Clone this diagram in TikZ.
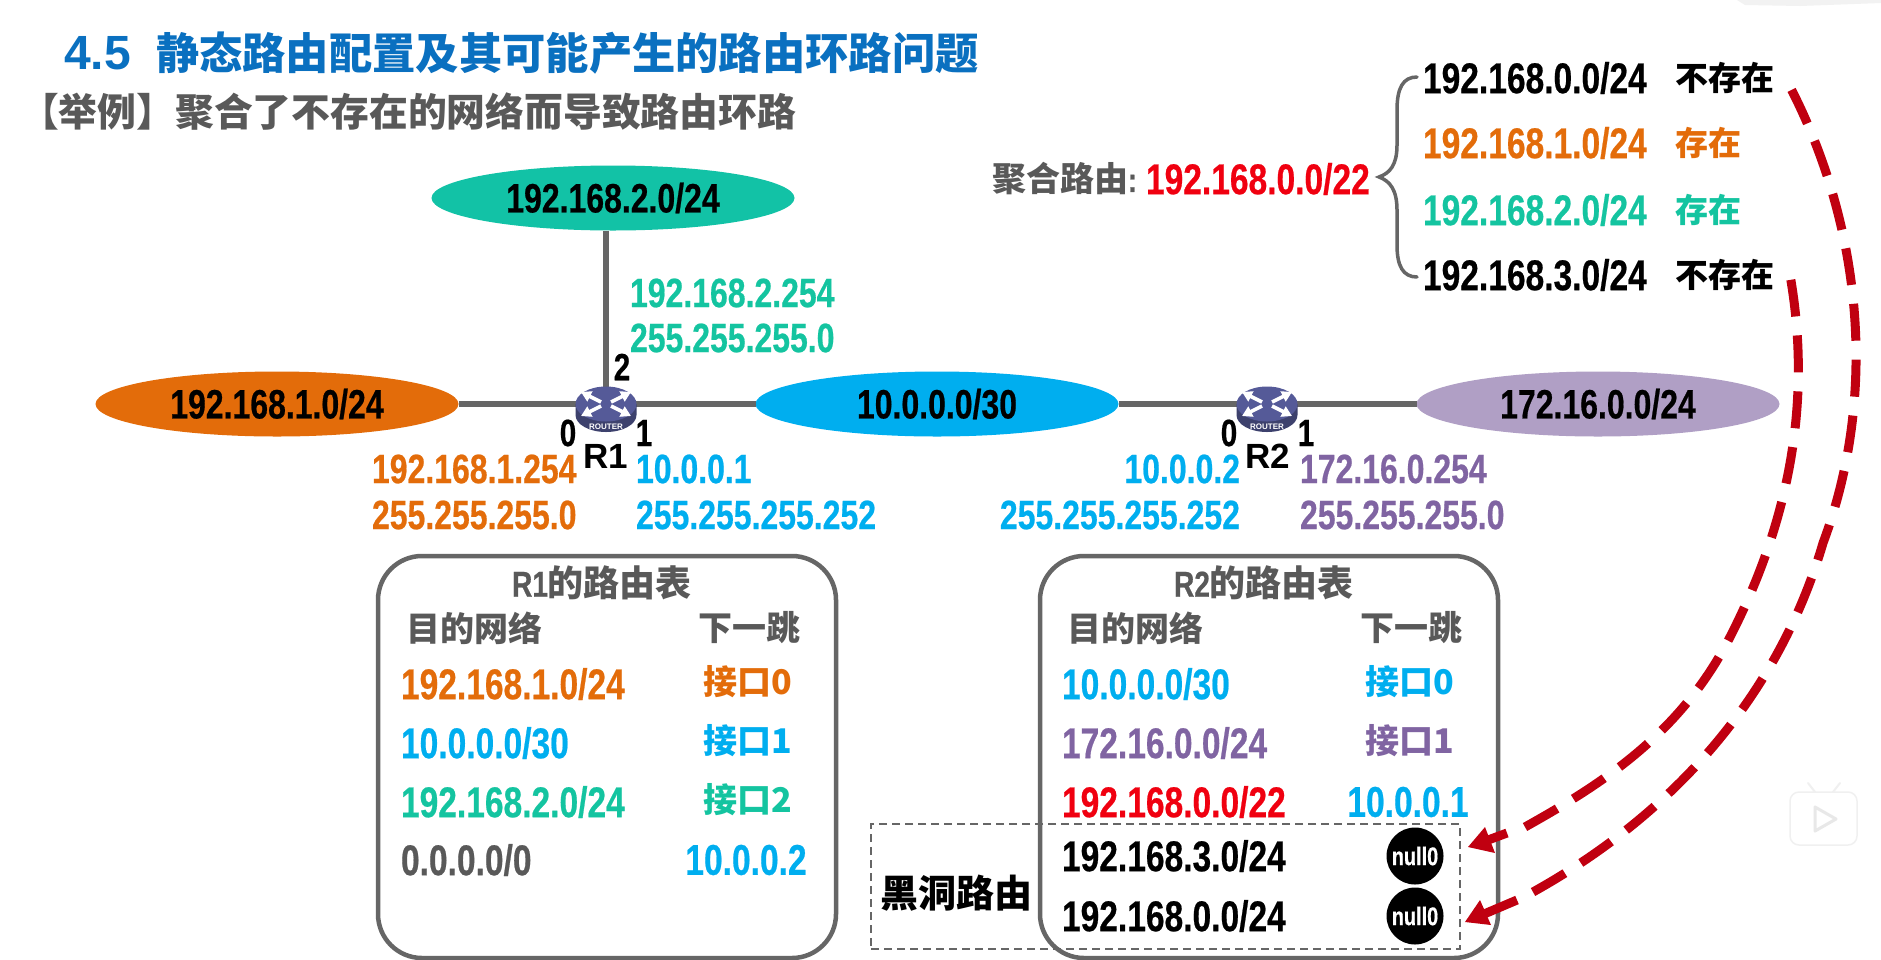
\documentclass[tikz,border=0pt]{standalone}
\usepackage{fontspec}
\usetikzlibrary{arrows.meta,shapes.geometric,calc}
\setmainfont{Liberation Sans}[FakeStretch=0.78,FakeBold=0.5]
\newfontfamily\latw{Liberation Sans}
\newfontfamily\cjk{Noto Sans CJK SC}
\definecolor{cOr}{HTML}{E36C0A}
\definecolor{cGr}{HTML}{14C4A0}
\definecolor{cBl}{HTML}{00AEEF}
\definecolor{cPu}{HTML}{8064A2}
\definecolor{cGy}{HTML}{595959}
\definecolor{cRd}{HTML}{F00010}
\definecolor{cDk}{HTML}{C00010}
\definecolor{cTi}{HTML}{0A70C0}
\definecolor{cRo}{HTML}{555A98}
\definecolor{cLn}{HTML}{666666}
\newcommand{\fs}[1]{\fontsize{#1}{#1}\selectfont}
\tikzset{
  x=1pt,y=-1pt,
  every node/.style={inner sep=0pt,outer sep=0pt},
  txt/.style={font=\fs{43}\bfseries,anchor=west},
  adr/.style={font=\fs{41}\bfseries,anchor=west},
  ctxt/.style={font=\fs{43}\bfseries,anchor=center},
  port/.style={font=\fs{38}\bfseries,anchor=center},
  ncn/.style={font=\fs{34}\cjk\bfseries,anchor=center},
  net/.style={ellipse,minimum width=363pt,minimum height=65pt,font=\fs{41}\bfseries,text=black},
  link/.style={draw=cLn,line width=6.5pt},
  table box/.style={draw=cLn,line width=4.5pt,rounded corners=44pt,fill=white},
  redarc/.style={draw=cDk,line width=9pt,dash pattern=on 37pt off 19pt},
  redstub/.style={draw=cDk,line width=9pt},
  redtip/.style={fill=cDk,draw=none},
  hole/.style={ellipse,fill=black,minimum width=57pt,minimum height=57pt},
  holetxt/.style={text=white,font=\fs{25.5}\bfseries},
  rtr/.style={ellipse,minimum width=61pt,minimum height=35pt,fill=cRo},
}
\begin{document}
\begin{tikzpicture}
\useasboundingbox (0,0) rectangle (1881,959);
\fill[white] (0,0) rectangle (1881,959);
% faint overlays of the screenshot
\fill[black!5] (1737,0) -- (1881,0) -- (1881,3) -- (1800,6) -- (1745,5) -- cycle;
\draw[black!6,line width=1.5pt,fill=white,rounded corners=9pt] (1790,792) rectangle (1857,845);
\draw[black!6,line width=2pt,line cap=round] (1808,783) -- (1815,792) (1840,783) -- (1833,792);
\draw[black!9,line width=3pt,line join=round,fill=white] (1815,807) -- (1836,819) -- (1815,831) -- cycle;

% title
\node[anchor=west,text=cTi,font=\fs{48}\latw\bfseries] (t45) at (64,53) {4.5};
\node[anchor=west,text=cTi,font=\fs{43.3}\cjk\bfseries] (title) at (156,53) {静态路由配置及其可能产生的路由环路问题};
\node[anchor=west,text=cGy,font=\fs{38.8}\cjk\bfseries] (sub) at (20,112) {【举例】聚合了不存在的网络而导致路由环路};

% routers (placed first so the links can name them)
\coordinate (r1c) at (606,408);
\coordinate (r2c) at (1267,408);
\foreach \nm/\cc in {r1/r1c,r2/r2c}{
  \node[rtr,fill=none] (\nm) at ($(\cc)+(0,-4)$) {};
}

% networks
\node[net,fill=cOr] (n1) at (277,404) {192.168.1.0/24};
\node[net,fill=cGr!92!cBl] (n2) at (613,198) {192.168.2.0/24};
\node[net,fill=cBl] (n3) at (937,404) {10.0.0.0/30};
\node[net,fill=cPu!62!white] (n4) at (1598,404) {172.16.0.0/24};

\draw[link] (r1 |- n2.south) -- (r1);
\draw[link] (n1.east) -- (n3.west);
\draw[link] (n3.east) -- (n4.west);
\foreach \cc in {r1c,r2c}{
  \begin{scope}[shift={(\cc)}]
    \fill[cRo!72!black] (-30.5,-4) -- (-30.5,7) arc[x radius=30.5,y radius=17,start angle=180,end angle=0] -- (30.5,-4) -- cycle;
    \fill[cRo] (0,-4) ellipse[x radius=30.5,y radius=17.5];
    \foreach \sx/\sy in {1/1,-1/1,1/-1,-1/-1}{
      \draw[white,line width=3.6pt,-{Triangle[length=10pt,width=11pt]}] (\sx*5,-4+\sy*2) -- (\sx*25,-4+\sy*12);
    }
    \node[text=white,font=\fs{8}\latw\bfseries] at (0,19) {ROUTER};
  \end{scope}
}

% addresses around R1
\node[adr,text=cGr] (a1) at (630,293) {192.168.2.254};
\node[adr,text=cGr] (a2) at (630,338) {255.255.255.0};
\node[port] (p2) at (622,367) {2};
\node[port] (p0) at (568,433) {0};
\node[port] (p1) at (644,433) {1};
\node[anchor=center,font=\fs{35}\latw\bfseries] (rn1) at (606,456) {R1};
\node[adr,text=cOr] (a3) at (372,469) {192.168.1.254};
\node[adr,text=cOr] (a4) at (372,515) {255.255.255.0};
\node[adr,text=cBl] (a5) at (636,469) {10.0.0.1};
\node[adr,text=cBl] (a6) at (636,515) {255.255.255.252};
% around R2
\node[port] (q0) at (1229,433) {0};
\node[port] (q1) at (1306,433) {1};
\node[anchor=center,font=\fs{35}\latw\bfseries] (rn2) at (1268,456) {R2};
\node[adr,anchor=east,text=cBl] (b1) at (1240,469) {10.0.0.2};
\node[adr,anchor=east,text=cBl] (b2) at (1240,515) {255.255.255.252};
\node[adr,text=cPu] (b3) at (1300,469) {172.16.0.254};
\node[adr,text=cPu] (b4) at (1300,515) {255.255.255.0};

% aggregate
\node[anchor=west,text=cGy,font=\fs{34}\bfseries] (agg) at (992,179) {{\cjk\bfseries 聚合路由}:};
\node[txt,text=cRd] (aggv) at (1146,179) {192.168.0.0/22};
\coordinate (brT) at (1417,77);
\coordinate (brM) at (1379,177);
\coordinate (brB) at (1417,277);
\draw[cLn,line width=3.5pt,line cap=round] (brT) .. controls (1403,77) and (1397,88) .. (1397,110)
  -- (1397,145) .. controls (1397,165) and (1390,173) .. (brM)
  .. controls (1390,181) and (1397,190) .. (1397,210) -- (1397,245)
  .. controls (1397,266) and (1403,277) .. (brB);
\foreach \nm/\y/\col/\ip/\st in {s0/78/black/192.168.0.0\slash 24/不存在,s1/143/cOr/192.168.1.0\slash 24/存在,s2/210/cGr/192.168.2.0\slash 24/存在,s3/275/black/192.168.3.0\slash 24/不存在}{
  \node[txt,text=\col] (\nm) at (1423,\y) {\ip};
  \node[anchor=west,font=\fs{33}\cjk\bfseries,text=\col] (\nm c) at (1675,\y) {\st};
}

% tables
\draw[table box] (378,556) rectangle (836,958);
\draw[table box] (1040,556) rectangle (1498,958);
\node[ncn,text=cGy,font=\fs{36}\bfseries] (h1) at (602,583) {R1{\cjk\bfseries 的路由表}};
\node[ncn,text=cGy] (h2) at (474,628) {目的网络};
\node[ncn,text=cGy] (h3) at (749,628) {下一跳};
\foreach \nm/\y/\col/\ip/\st in {u0/684/cOr/192.168.1.0\slash 24/接口0,u1/743/cBl/10.0.0.0\slash 30/接口1,u2/802/cGr/192.168.2.0\slash 24/接口2}{
  \node[txt,text=\col] (\nm) at (401,\y) {\ip};
  \node[ncn,text=\col] (\nm c) at (748,\y-2) {\st};
}
\node[txt,text=cGy] (u3) at (401,860) {0.0.0.0/0};
\node[ctxt,text=cBl] (u3c) at (746,860) {10.0.0.2};

\node[ncn,text=cGy,font=\fs{36}\bfseries] (k1) at (1264,583) {R2{\cjk\bfseries 的路由表}};
\node[ncn,text=cGy] (k2) at (1135,628) {目的网络};
\node[ncn,text=cGy] (k3) at (1411,628) {下一跳};
\foreach \nm/\y/\col/\ip/\st in {v0/684/cBl/10.0.0.0\slash 30/接口0,v1/743/cPu/172.16.0.0\slash 24/接口1}{
  \node[txt,text=\col] (\nm) at (1062,\y) {\ip};
  \node[ncn,text=\col] (\nm c) at (1410,\y-2) {\st};
}
\node[txt,text=cRd] (v2) at (1062,802) {192.168.0.0/22};
\node[ctxt,text=cBl] (v2c) at (1408,802) {10.0.0.1};
\node[txt] (v3) at (1062,856) {192.168.3.0/24};
\node[txt] (v4) at (1062,916) {192.168.0.0/24};
\node[hole] (nul1) at (1415,856) {};
\node[holetxt] (nul1t) at (nul1) {null0};
\node[hole] (nul2) at (1415,916) {};
\node[holetxt] (nul2t) at (nul2) {null0};

% black hole box
\node[draw=cLn,dash pattern=on 8pt off 5pt,line width=1.8pt,fill=none,minimum width=589pt,minimum height=125pt] (bh) at (1165.5,886.5) {};
\node[font=\fs{38}\cjk\bfseries] (bhl) at (956,893) {黑洞路由};

% red arcs
\coordinate (tipA) at ($(nul1.east)+(24.5,-9)$);
\coordinate (tipB) at ($(nul2.east)+(21.5,6)$);
\coordinate (stA) at ($(s3c.east)+(16,0)$);
\coordinate (stB) at ($(s0c.east)+(14,5)$);
\draw[redarc] ($(tipA)+(57,-20)$) .. controls (1600,785) and (1680,735) .. (1730,637)
   .. controls (1790,520) and (1812,400) .. (stA);
\draw[redarc] ($(tipB)+(68,-30)$) .. controls (1680,810) and (1780,690) .. (1823,543)
   .. controls (1880,390) and (1860,220) .. (stB);
\draw[redstub] ($(tipA)+(12,-4)$) -- ($(tipA)+(39,-14)$);
\draw[redstub] ($(tipB)+(12,-5)$) -- ($(tipB)+(52,-22)$);
\fill[redtip] (tipA) -- ++(17,-20) -- ++(10,26) -- cycle;
\fill[redtip] (tipB) -- ++(15,-22) -- ++(11,25) -- cycle;
\end{tikzpicture}
\end{document}
